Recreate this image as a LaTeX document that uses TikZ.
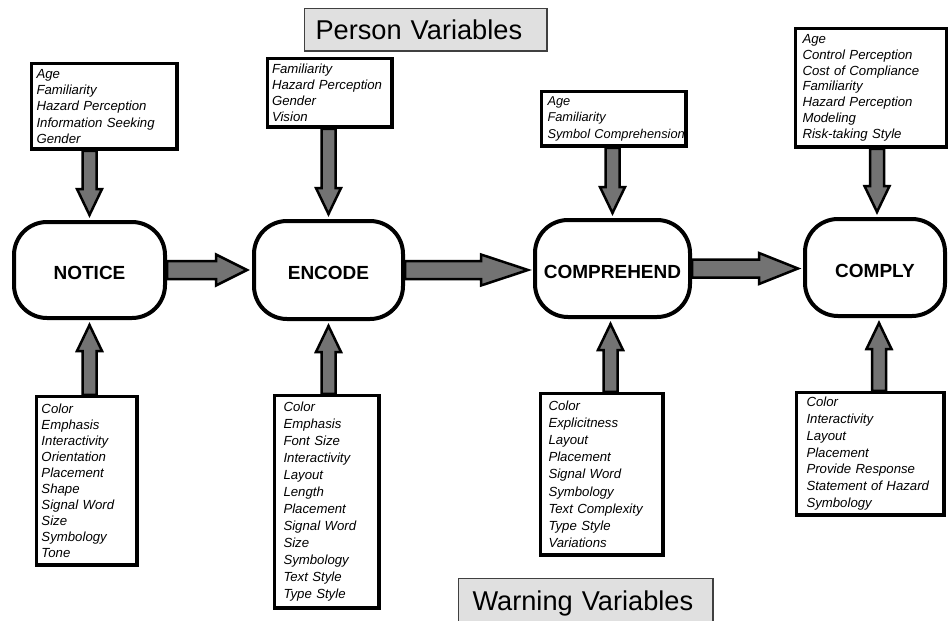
\documentclass[tikz,border=0pt]{standalone}
\usepackage{fontspec}
\setmainfont{Liberation Sans}
\usetikzlibrary{calc,backgrounds}
\newcommand{\fatdown}[3]{%
 \draw[fat] let \p1=(#1.south), \p2=(#2.north) in
  (\x2+#3-7pt,\y1) -- (\x2+#3-7pt,\y2+31pt) -- (\x2+#3-12.5pt,\y2+31pt) -- (\x2+#3,\y2+5pt)
  -- (\x2+#3+12.5pt,\y2+31pt) -- (\x2+#3+7pt,\y2+31pt) -- (\x2+#3+7pt,\y1) -- cycle;}
\newcommand{\fatup}[3]{%
 \draw[fat] let \p1=(#1.north), \p2=(#2.south) in
  (\x2+#3-7pt,\y1) -- (\x2+#3-7pt,\y2-31pt) -- (\x2+#3-12.5pt,\y2-31pt) -- (\x2+#3,\y2-5pt)
  -- (\x2+#3+12.5pt,\y2-31pt) -- (\x2+#3+7pt,\y2-31pt) -- (\x2+#3+7pt,\y1) -- cycle;}
\newcommand{\fatright}[3]{%
 \draw[fat] let \p1=(#1.east), \p2=(#2.west) in
  (\x1,\y1+9pt) -- (\x2-5pt-#3,\y1+9pt) -- (\x2-5pt-#3,\y1+15.5pt) -- (\x2-5pt,\y1)
  -- (\x2-5pt-#3,\y1-15.5pt) -- (\x2-5pt-#3,\y1-9pt) -- (\x1,\y1-9pt) -- cycle;}
\newcommand{\listfontsz}[2]{\fontsize{#1}{#2}\selectfont\itshape\hyphenpenalty=10000\exhyphenpenalty=10000\hbadness=10000\hfuzz=200pt}
\newcommand{\listfont}[1]{\listfontsz{13.2}{#1}}
\begin{document}
\begin{tikzpicture}[x=1pt,y=-1pt,
  stage/.style={draw=black, line width=4pt, rounded corners=33pt, fill=white,
    font=\fontsize{19}{22}\selectfont\bfseries, inner sep=0pt, text height=19.5pt, text depth=0pt},
  listbox/.style={draw=black, line width=3.5pt, fill=white, anchor=north west,
    font=\listfont{16.3pt}, align=left, inner ysep=0pt},
  titlebox/.style={draw=black!75, line width=1.5pt, fill=black!12, anchor=north west,
    font=\fontsize{27.2}{30}\selectfont, align=left, text height=20pt},
  fat/.style={draw=black, line width=2.5pt, fill=black!55, line join=miter}
]
\useasboundingbox (0,0) rectangle (948,621);

% titles
\node[titlebox, inner xsep=11pt, inner ysep=11.25pt, text depth=0pt, text width=220.5pt]
  (pv) at (303.75,7.75) {Person Variables};
\node[titlebox, inner xsep=14pt, inner ysep=12pt, text depth=18pt, text width=226.5pt]
  (wv) at (457.75,577.75) {Warning Variables};

% stages
\node[stage, minimum width=151pt, minimum height=96pt] (notice) at (89.5,270) {NOTICE};
\node[stage, minimum width=149pt, minimum height=98pt] (encode) at (328.5,270) {ENCODE};
\node[stage, minimum width=155pt, minimum height=97pt] (comprehend) at (612.5,268.5) {COMPREHEND};
\node[stage, minimum width=140pt, minimum height=97pt] (comply) at (875,267.5) {COMPLY};

% person variable boxes
\node[listbox, inner xsep=5pt, text width=135.5pt, minimum height=85.5pt] (p1) at (29.75,61.75)
  {Age\\Familiarity\\Hazard Perception\\Information~Seeking\\Gender};
\node[listbox, inner xsep=4.5pt, text width=115.5pt, minimum height=68.5pt,
  font=\listfont{16pt}] (p2) at (265.75,56.75)
  {Familiarity\\Hazard Perception\\Gender\\Vision};
\node[listbox, inner xsep=6pt, text width=132.5pt, minimum height=54.5pt,
  font={\listfontsz{12.8}{16.3pt}}] (p3) at (539.75,89.75)
  {Age\\Familiarity\\Symbol~Comprehension};
\node[listbox, inner xsep=7pt, text width=137.5pt, minimum height=118.5pt,
  font=\listfont{15.7pt}] (p4) at (793.75,26.75)
  {Age\\Control Perception\\Cost of Compliance\\Familiarity\\Hazard Perception\\Modeling\\Risk-taking~Style};

% warning variable boxes
\node[listbox, inner xsep=5pt, text width=90.5pt, minimum height=168.5pt,
  font=\listfont{16.1pt}] (w1) at (34.75,394.75)
  {Color\\Emphasis\\Interactivity\\Orientation\\Placement\\Shape\\Signal~Word\\Size\\Symbology\\Tone};
\node[listbox, inner xsep=9pt, text width=86.5pt, minimum height=212.5pt,
  font=\listfont{17pt}] (w2) at (272.75,393.75)
  {Color\\Emphasis\\Font Size\\Interactivity\\Layout\\Length\\Placement\\Signal~Word\\Size\\Symbology\\Text Style\\Type Style};
\node[listbox, inner xsep=8pt, text width=106.5pt, minimum height=161.5pt,
  font=\listfont{17.1pt}] (w3) at (538.75,391.75)
  {Color\\Explicitness\\Layout\\Placement\\Signal Word\\Symbology\\Text~Complexity\\Type Style\\Variations};
\node[listbox, inner xsep=10pt, text width=127.5pt, minimum height=122.5pt,
  font=\listfont{16.8pt}] (w4) at (794.75,390.75)
  {Color\\Interactivity\\Layout\\Placement\\Provide Response\\Statement~of~Hazard\\Symbology};

% fat arrows behind the shapes
\begin{pgfonlayer}{background}
\fatright{notice}{encode}{31pt}
\fatright{encode}{comprehend}{47pt}
\fatright{comprehend}{comply}{39pt}
\fatdown{p1}{notice}{0pt}
\fatdown{p2}{encode}{0pt}
\fatdown{p3}{comprehend}{0pt}
\fatdown{p4}{comply}{2pt}
\fatup{w1}{notice}{0pt}
\fatup{w2}{encode}{0pt}
\fatup{w3}{comprehend}{-2pt}
\fatup{w4}{comply}{4pt}
\end{pgfonlayer}
\end{tikzpicture}
\end{document}
